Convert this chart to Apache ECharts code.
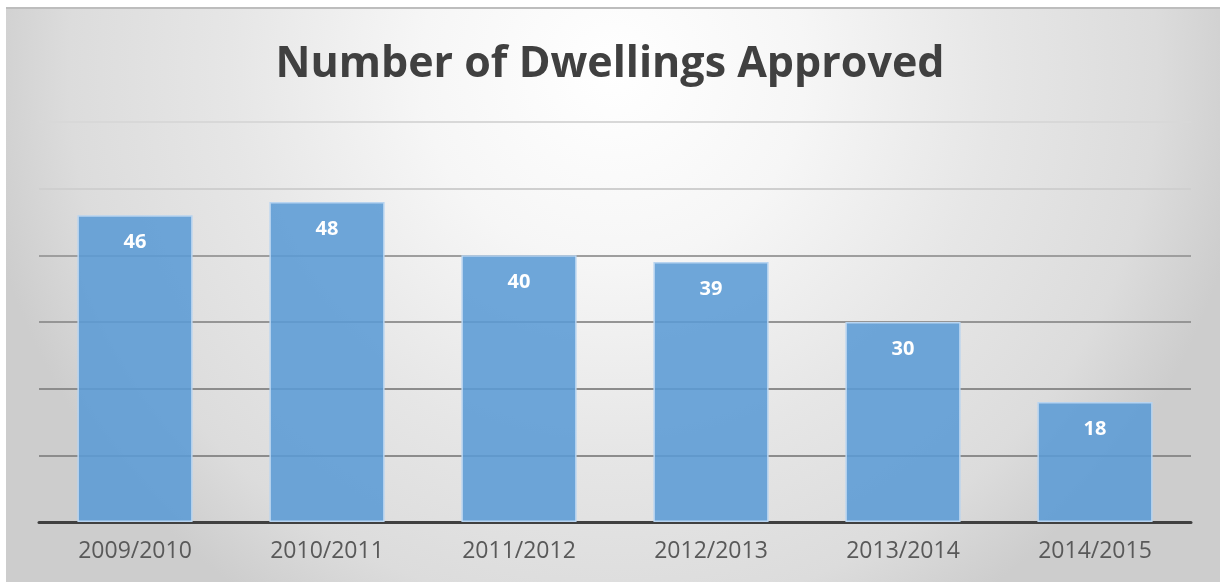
<!DOCTYPE html>
<html>
<head>
<meta charset="utf-8">
<script src="https://cdn.jsdelivr.net/npm/echarts@6/dist/echarts.min.js"></script>
<style>
html,body{margin:0;padding:0;background:#fff;}
#c{width:1220px;height:582px;}
</style>
</head>
<body>
<div id="c"></div>
<script>
var title = 'Number of Dwellings Approved';
var categories = ['2009/2010', '2010/2011', '2011/2012', '2012/2013', '2013/2014', '2014/2015'];
var approved = [46, 48, 40, 39, 30, 18];
var yTicks = [0, 10, 20, 30, 40, 50, 60];

var chart = echarts.init(document.getElementById('c'), null, {renderer: 'canvas'});
chart.setOption({
  animation: false,
  graphic: [{
    type: 'rect', z: -10, silent: true,
    shape: {x: 6, y: 7, width: 1214, height: 575},
    style: {
      fill: new echarts.graphic.RadialGradient(613, 70, 640, [
        {offset: 0, color: '#ffffff'},
        {offset: 0.3, color: '#f6f6f6'},
        {offset: 0.6, color: '#e6e6e6'},
        {offset: 0.85, color: '#dcdcdc'},
        {offset: 1, color: '#cdcdcd'}
      ], true)
    }
  }, {
    type: 'line', z: -9, silent: true,
    shape: {x1: 6, y1: 8, x2: 1220, y2: 8},
    style: {stroke: '#bdbdbd', lineWidth: 2}
  }],
  title: {
    text: title,
    left: 'center',
    top: 38,
    textStyle: {fontFamily: 'Open Sans', fontWeight: 'bold', fontSize: 43, color: '#404040'}
  },
  grid: {left: 39, right: 29, top: 122, bottom: 60},
  xAxis: {
    type: 'category',
    data: categories,
    axisLine: {show: true, lineStyle: {color: '#404040', width: 3}},
    axisTick: {show: false},
    axisLabel: {fontFamily: 'Open Sans', fontSize: 23, color: '#595959', margin: 18}
  },
  yAxis: {
    type: 'value',
    min: yTicks[0],
    max: yTicks[yTicks.length - 1],
    interval: 10,
    axisLine: {show: false},
    axisTick: {show: false},
    axisLabel: {show: false},
    splitLine: {show: true, lineStyle: {color: ['#8c8c8c', '#8c8c8c', '#8c8c8c', '#959595', '#9e9e9e', '#cfcfcf', '#d8d8d8'], width: 2}}
  },
  series: [{
    type: 'bar',
    data: approved,
    barWidth: '60%',
    itemStyle: {color: 'rgba(91,155,213,0.88)', borderColor: '#b8d4f0', borderWidth: 1.5},
    label: {
      show: true,
      position: 'insideTop',
      distance: 17,
      fontFamily: 'Open Sans',
      fontWeight: 'bold',
      fontSize: 20,
      color: '#ffffff'
    }
  }]
});
</script>
</body>
</html>
